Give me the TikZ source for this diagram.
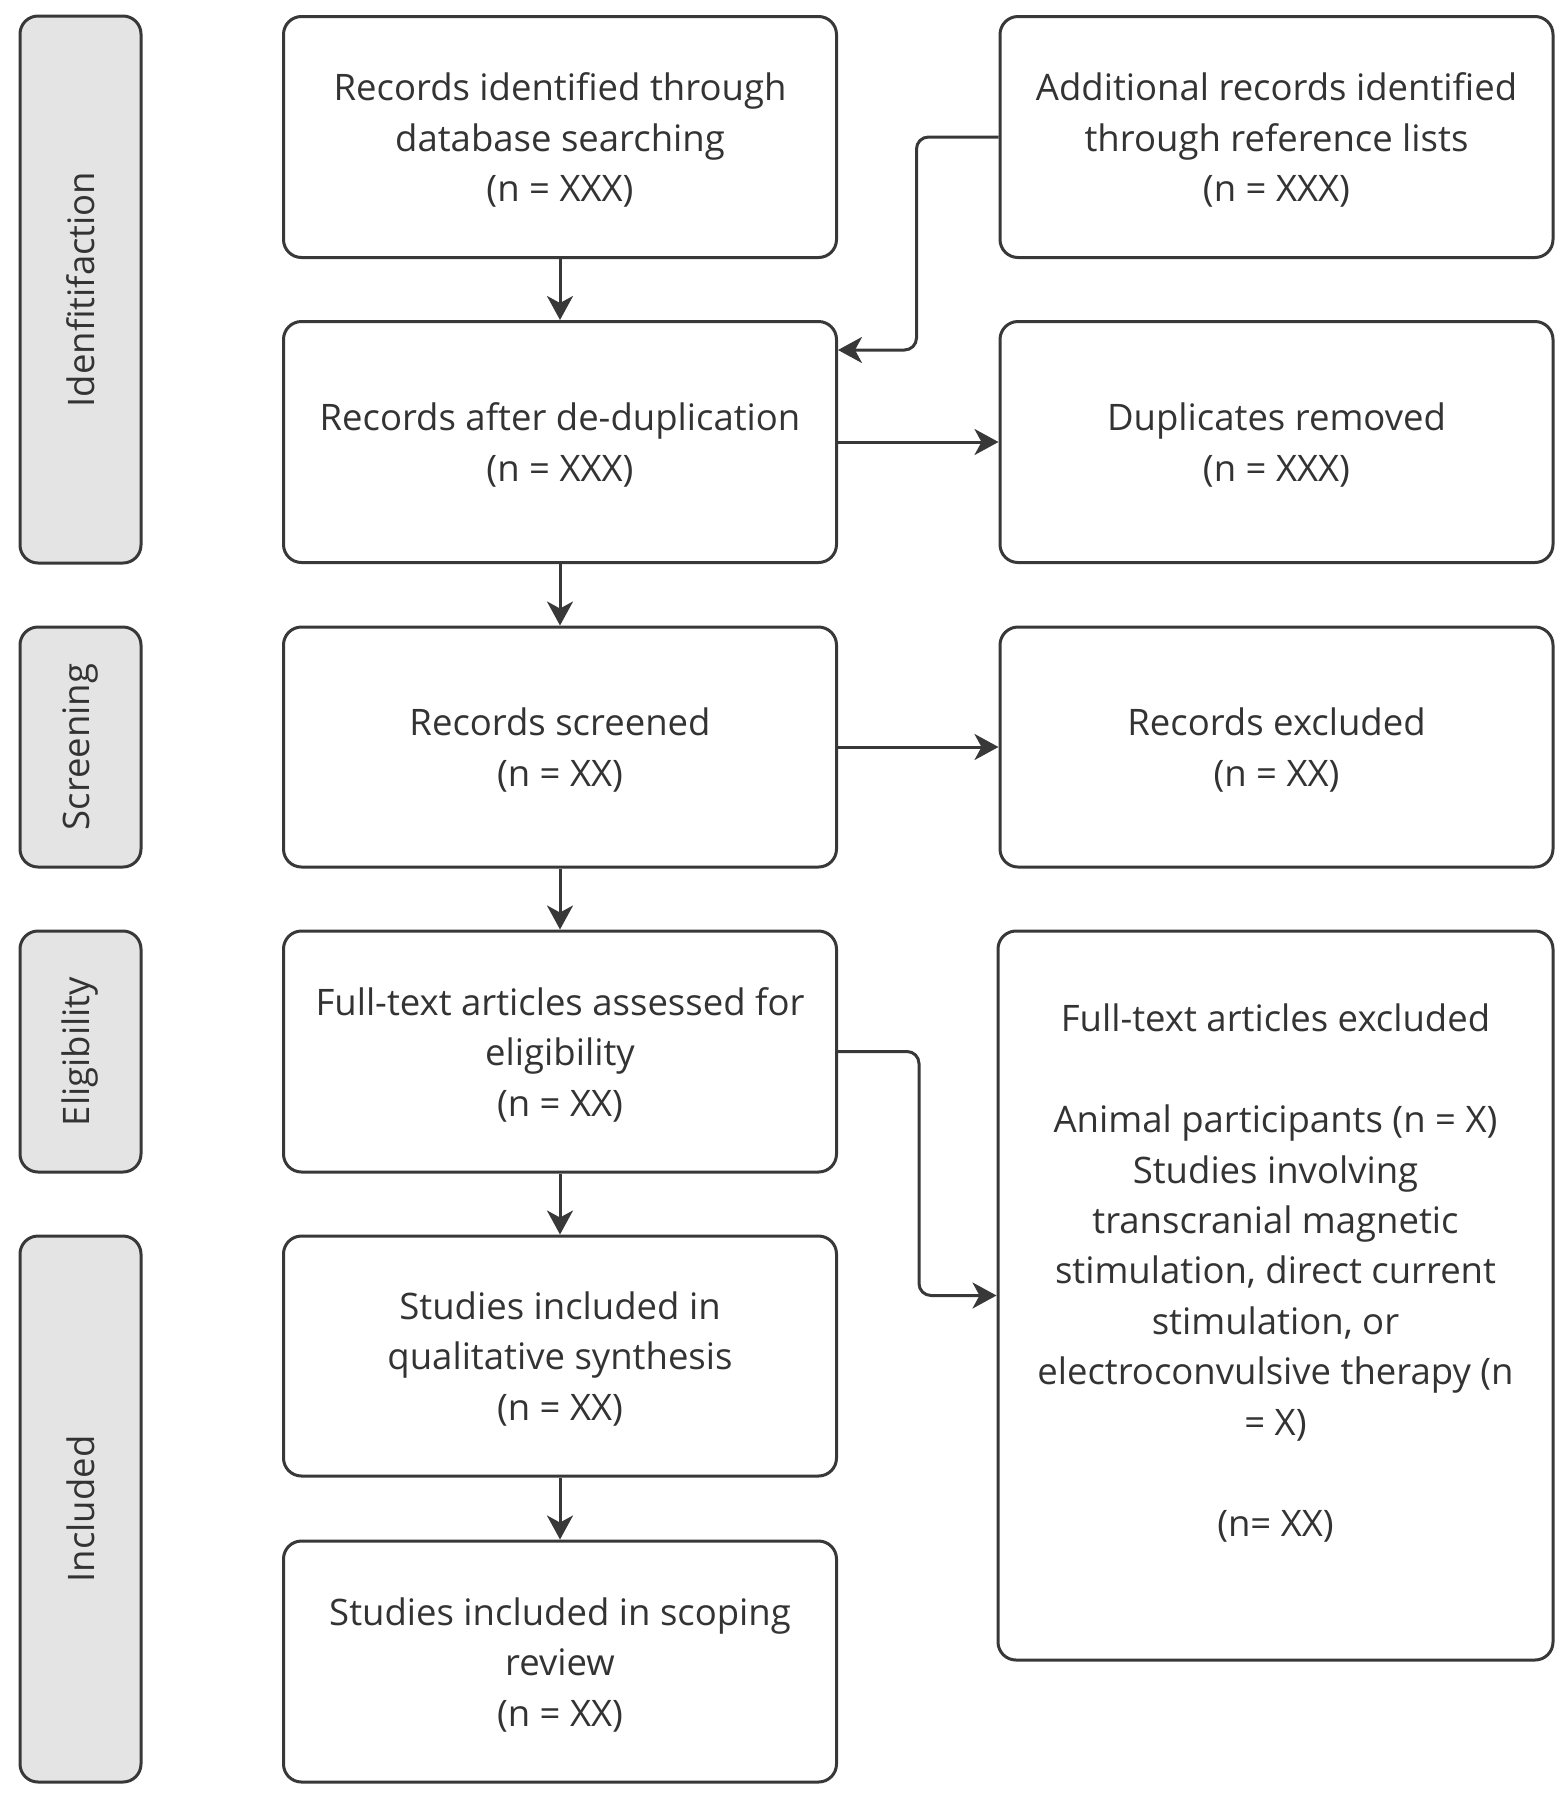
\documentclass[tikz,border=0pt]{standalone}
\usepackage{fontspec}
\setmainfont{Open Sans}
\usetikzlibrary{arrows.meta,calc}
\definecolor{linec}{HTML}{383838}
\definecolor{textc}{HTML}{333333}
\definecolor{barfill}{HTML}{E4E4E4}
\tikzset{
  box/.style={draw=linec, line width=3pt, rounded corners=18pt, fill=white,
    minimum width=553pt, minimum height=241pt, inner sep=0pt},
  bar/.style={draw=linec, line width=3pt, rounded corners=18pt, fill=barfill,
    minimum width=121pt, inner sep=0pt},
  txt/.style={text=textc, align=center, yshift=-3pt, font=\fontsize{36.5}{50.5}\selectfont},
  barlbl/.style={text=textc, rotate=90, font=\fontsize{36.5}{50.5}\selectfont},
  arr/.style={draw=linec, line width=3pt, rounded corners=12pt,
    -{Stealth[length=24pt,width=26pt,inset=7pt]}}
}
\begin{document}
\begin{tikzpicture}[x=1pt,y=-1pt]
\useasboundingbox (0,0) rectangle (1567,1800);
% phase bars
\node[bar, minimum height=547pt] (b1) at (80.5,289.5) {};
\node[barlbl] (l1) at (b1.center) {Idenfitifaction};
\node[bar, minimum height=240pt] (b2) at (80.5,747) {};
\node[barlbl] (l2) at (b2.center) {Screening};
\node[bar, minimum height=241pt] (b3) at (80.5,1051.5) {};
\node[barlbl] (l3) at (b3.center) {Eligibility};
\node[bar, minimum height=546pt] (b4) at (80.5,1509) {};
\node[barlbl] (l4) at (b4.center) {Included};
% boxes
\node[box] (A) at (560,137) {};
\node[txt] at (A.center) {Records identified through\\database searching\\(n = XXX)};
\node[box] (B) at (1276.5,137) {};
\node[txt] at (B.center) {Additional records identified\\through reference lists\\(n = XXX)};
\node[box] (C) at (560,442) {};
\node[txt] at (C.center) {Records after de-duplication\\(n = XXX)};
\node[box] (D) at (1276.5,442) {};
\node[txt] at (D.center) {Duplicates removed\\(n = XXX)};
\node[box, minimum height=240pt] (E) at (560,747) {};
\node[txt] at (E.center) {Records screened\\(n = XX)};
\node[box, minimum height=240pt] (F) at (1276.5,747) {};
\node[txt] at (F.center) {Records excluded\\(n = XX)};
\node[box] (G) at (560,1051.5) {};
\node[txt] at (G.center) {Full-text articles assessed for\\eligibility\\(n = XX)};
\node[box, minimum height=240pt] (H) at (560,1356) {};
\node[txt] at (H.center) {Studies included in\\qualitative synthesis\\(n = XX)};
\node[box] (I) at (560,1661.5) {};
\node[txt] at (I.center) {Studies included in scoping\\review\\(n = XX)};
\node[box, minimum width=555pt, minimum height=729pt] (J) at (1275.5,1295.5) {};
\node[txt] at (1275.5,1270) {Full-text articles excluded\\[50.5pt]Animal participants (n = X)\\Studies involving\\transcranial magnetic\\stimulation, direct current\\stimulation, or\\electroconvulsive therapy (n\\= X)\\[50.5pt](n= XX)};
% connectors
\draw[arr] (A.south) -- (C.north);
\draw[arr] (B.west) -- ++(-82,0) |- ([yshift=-30pt]C.north east);
\draw[arr] (C.east) -- (D.west);
\draw[arr] (C.south) -- (E.north);
\draw[arr] (E.east) -- (F.west);
\draw[arr] (E.south) -- (G.north);
\draw[arr] (G.east) -- ++(81,0) |- (J.west);
\draw[arr] (G.south) -- (H.north);
\draw[arr] (H.south) -- (I.north);
\end{tikzpicture}
\end{document}
